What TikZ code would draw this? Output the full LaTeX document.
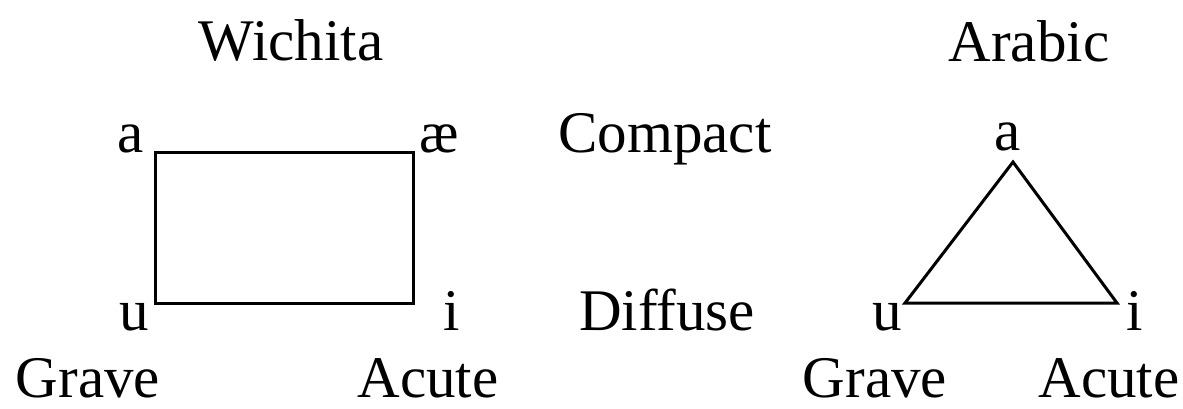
\documentclass[tikz,border=0pt]{standalone}
\usepackage{fontspec}
\setmainfont{Liberation Serif}
\begin{document}
\begin{tikzpicture}[x=1pt,y=-1pt,
  lbl/.style={inner sep=0pt,anchor=base,font=\fontsize{59}{62}\selectfont},
  edge/.style={line width=3pt,line join=miter}]
\useasboundingbox (0,0) rectangle (1183,408);
% titles
\node[lbl] (wichita) at (291,60) {Wichita};
\node[lbl] (arabic) at (1029,61) {Arabic};
% middle labels
\node[lbl] (compact) at (665,152) {Compact};
\node[lbl] (diffuse) at (667,330) {Diffuse};
% Wichita rectangle
\coordinate (ra) at (155,152);
\coordinate (rae) at (413,152);
\coordinate (ri) at (413,303);
\coordinate (ru) at (155,303);
\draw[edge] (ra) -- (rae) -- (ri) -- (ru) -- cycle;
\node[lbl] (wa) at (131,152) {a};
\node[lbl] (wae) at (439,152) {æ};
\node[lbl] (wu) at (134,330) {u};
\node[lbl] (wi) at (452,330) {i};
\node[lbl] (wgrave) at (88,397) {Grave};
\node[lbl] (wacute) at (428,397) {Acute};
% Arabic triangle
\coordinate (ta) at (1013,162);
\coordinate (tu) at (905,303);
\coordinate (ti) at (1117,303);
\draw[edge] (ta) -- (ti) -- (tu) -- cycle;
\node[lbl] (aa) at (1008,150) {a};
\node[lbl] (au) at (887,330) {u};
\node[lbl] (ai) at (1135,330) {i};
\node[lbl] (agrave) at (875,397) {Grave};
\node[lbl] (aacute) at (1109,397) {Acute};
\end{tikzpicture}
\end{document}
